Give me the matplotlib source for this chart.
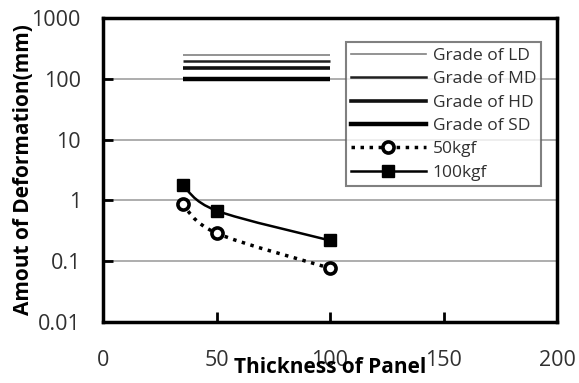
import numpy as np
import matplotlib
matplotlib.use("Agg")
import matplotlib.pyplot as plt
from matplotlib.path import Path
from matplotlib.patches import PathPatch
from matplotlib.lines import Line2D

plt.rcParams['font.family'] = ['Open Sans', 'DejaVu Sans']

# data
thickness = [35, 50, 100]
load_50kgf = [0.87, 0.29, 0.077]
load_100kgf = [1.8, 0.68, 0.22]

grade_names = ["Grade of LD", "Grade of MD", "Grade of HD", "Grade of SD"]
grade_values = [250, 200, 150, 100]
grade_range = [35, 100]

x_ticks = [0, 50, 100, 150, 200]
y_ticks = [0.01, 0.1, 1, 10, 100, 1000]
y_tick_labels = ["0.01", "0.1", "1", "10", "100", "1000"]


def smooth_path(xs, ys):
    # excel-like smoothed line: catmull-rom bezier in (x, log10 y) space
    px = np.array(xs, dtype=float)
    py = np.log10(np.array(ys, dtype=float))
    n = len(px)
    verts = [(px[0], 10 ** py[0])]
    codes = [Path.MOVETO]
    for i in range(n - 1):
        i0 = max(i - 1, 0)
        i3 = min(i + 2, n - 1)
        c1 = (px[i] + (px[i + 1] - px[i0]) / 6, py[i] + (py[i + 1] - py[i0]) / 6)
        c2 = (px[i + 1] - (px[i3] - px[i]) / 6, py[i + 1] - (py[i3] - py[i]) / 6)
        verts += [(c1[0], 10 ** c1[1]), (c2[0], 10 ** c2[1]), (px[i + 1], 10 ** py[i + 1])]
        codes += [Path.CURVE4] * 3
    return Path(verts, codes)


fig = plt.figure(figsize=(5.79, 3.83), dpi=100)
ax = fig.add_axes([0.178, 0.159, 0.784, 0.794])
ax.set_yscale('log')
ax.set_xlim(0, 200)
ax.set_ylim(0.01, 1000)

for v in [0.1, 1, 10, 100]:
    ax.axhline(v, color='#a0a0a0', lw=1.2, zorder=0)

grade_lw = [1.2, 1.8, 2.6, 3.2]
grade_col = ['#808080', '#202020', '#101010', 'black']
handles = []
for name, val, lw, c in zip(grade_names, grade_values, grade_lw, grade_col):
    ax.plot(grade_range, [val, val], color=c, lw=lw, solid_capstyle='butt')
    handles.append(Line2D([], [], color=c, lw=lw, label=name))

p50 = PathPatch(smooth_path(thickness, load_50kgf), fill=False, ec='black',
                lw=2.5, ls=(0, (1, 1.6)))
ax.add_patch(p50)
p100 = PathPatch(smooth_path(thickness, load_100kgf), fill=False, ec='black', lw=1.8)
ax.add_patch(p100)
ax.plot(thickness, load_50kgf, ls='none', marker='o', ms=8, mfc='white',
        mec='black', mew=2.6, zorder=5)
ax.plot(thickness, load_100kgf, ls='none', marker='s', ms=9, color='black', zorder=5)
handles.append(Line2D([], [], color='black', lw=2.5, ls=(0, (1, 1.6)), marker='o',
                      ms=8, mfc='white', mec='black', mew=2.6, label='50kgf'))
handles.append(Line2D([], [], color='black', lw=1.8, marker='s', ms=8, label='100kgf'))

ax.set_xticks(x_ticks)
ax.set_yticks(y_ticks)
ax.set_yticklabels(y_tick_labels)
ax.minorticks_off()
ax.tick_params(axis='both', direction='in', length=7, width=2, labelsize=15.5,
               labelcolor='#303030')
ax.tick_params(axis='x', pad=20)
ax.tick_params(axis='y', pad=16)
for s in ax.spines.values():
    s.set_linewidth(2.5)

ax.set_xlabel("Thickness of Panel", fontsize=15, fontweight='bold', labelpad=-10)
ax.set_ylabel("Amout of Deformation(mm)", fontsize=15, fontweight='bold', labelpad=-2)

leg = ax.legend(handles=handles, loc='upper left', bbox_to_anchor=(0.535, 0.92),
                fontsize=12.5, frameon=True, fancybox=False, handlelength=4.3,
                labelspacing=0.42, borderpad=0.3, handletextpad=0.4,
                borderaxespad=0)
leg.get_frame().set_edgecolor('#606060')
leg.get_frame().set_linewidth(1.5)
for t in leg.get_texts():
    t.set_color('#303030')

fig.savefig("out.png", dpi=100)
